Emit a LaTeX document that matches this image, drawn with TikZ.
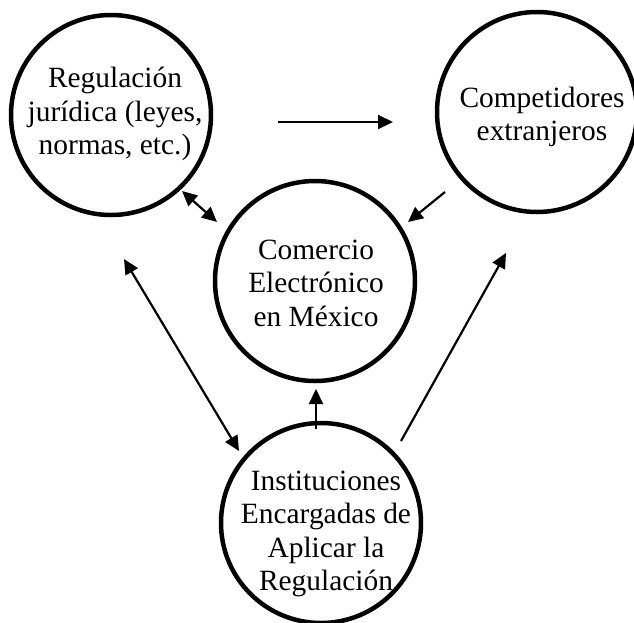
\documentclass[tikz,border=0pt]{standalone}
\usepackage{fontspec}
\setmainfont{Liberation Serif}
\usetikzlibrary{arrows.meta}
\begin{document}
\begin{tikzpicture}[x=1pt,y=-1pt,
  bubble/.style={circle, draw, line width=4.5pt, minimum size=200pt, inner sep=0pt, outer sep=0pt},
  lbl/.style={align=center, inner sep=0pt, font=\fontsize{29.4}{33.5}\selectfont},
  tip/.style={Triangle[length=15pt,width=14pt]},
  conn/.style={line width=2.2pt, -{Triangle[length=15pt,width=14pt]}},
  conntwo/.style={line width=2.2pt, {Triangle[length=15pt,width=14pt]}-{Triangle[length=15pt,width=14pt]}}]
\useasboundingbox (0,0) rectangle (634,622);
% circles
\node[bubble] (reg) at (111,115) {};
\node[bubble] (comp) at (537,112) {};
\node[bubble] (com) at (315,281) {};
\node[bubble] (inst) at (321,523) {};
% texts
\node[lbl] (regt) at (115,114) {Regulación\\jurídica (leyes,\\normas, etc.)};
\node[lbl] (compt) at (542,117) {Competidores\\extranjeros};
\node[lbl] (comt) at (316,283) {Comercio\\Electrónico\\en México};
\node[lbl] (instt) at (326,534) {Instituciones\\Encargadas de\\Aplicar la\\Regulación};
% connector ends
\coordinate (h1) at (278,122);
\coordinate (h2) at (393,122);
\coordinate (c1) at (445,192);
\coordinate (c2) at (408,222);
\coordinate (d1) at (182,191);
\coordinate (d2) at (217,222);
\coordinate (l1) at (124,259);
\coordinate (l2) at (239,451);
\coordinate (u1) at (316,429);
\coordinate (u2) at (316,389);
\coordinate (r1) at (401,441);
\coordinate (r2) at (506,253);
% connectors
\draw[conn] (h1) -- (h2);
\draw[conn] (c1) -- (c2);
\draw[conntwo] (d1) -- (d2);
\draw[conntwo] (l1) -- (l2);
\draw[conn] (u1) -- (u2);
\draw[conn] (r1) -- (r2);
\end{tikzpicture}
\end{document}
